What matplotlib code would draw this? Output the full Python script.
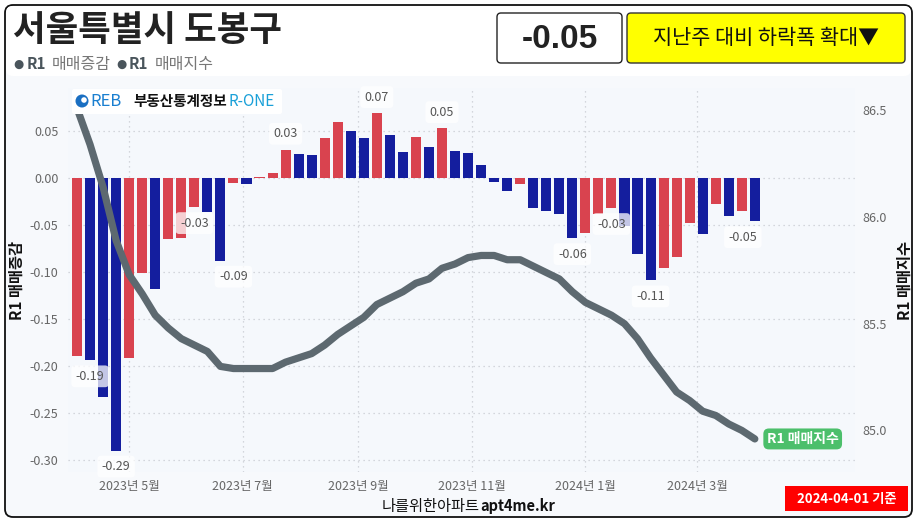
import numpy as np
import pandas as pd
import matplotlib
matplotlib.use('Agg')
import matplotlib.pyplot as plt
import matplotlib.dates as mdates
from matplotlib.patches import FancyBboxPatch, Circle
from matplotlib.ticker import FuncFormatter, FixedLocator
from matplotlib.transforms import IdentityTransform

plt.rcParams['font.family'] = ['Noto Sans CJK KR', 'DejaVu Sans']

# weekly data, 2023-04-03 .. 2024-04-01
weeks = pd.date_range('2023-04-03', '2024-04-01', freq='7D')

# R1 매매증감 (weekly change, %)
change = [-0.189, -0.194, -0.233, -0.290, -0.191, -0.101, -0.118, -0.065, -0.064, -0.031,
          -0.036, -0.088, -0.005, -0.006, 0.001, 0.005, 0.030, 0.026, 0.024, 0.042,
          0.059, 0.050, 0.042, 0.069, 0.046, 0.028, 0.044, 0.033, 0.053, 0.029,
          0.027, 0.014, -0.004, -0.014, -0.006, -0.032, -0.035, -0.038, -0.064, -0.059,
          -0.038, -0.032, -0.051, -0.081, -0.109, -0.096, -0.084, -0.048, -0.060, -0.028,
          -0.040, -0.035, -0.046]

# R1 매매지수 (index)
index_val = [86.51, 86.34, 86.14, 85.89, 85.73, 85.64, 85.54, 85.48, 85.43, 85.40,
             85.37, 85.30, 85.29, 85.29, 85.29, 85.29, 85.32, 85.34, 85.36, 85.40,
             85.45, 85.49, 85.53, 85.59, 85.62, 85.65, 85.69, 85.71, 85.76, 85.78,
             85.81, 85.82, 85.82, 85.80, 85.80, 85.77, 85.74, 85.71, 85.65, 85.60,
             85.57, 85.54, 85.50, 85.43, 85.34, 85.26, 85.18, 85.14, 85.09, 85.07,
             85.03, 85.00, 84.96]

# bars that carry a value label
label_idx = [1, 3, 9, 11, 16, 23, 28, 38, 41, 44, 52]
label_dx = [0, 0, 0, 13, 0, 0, 0, 0, 0, 0, -12]   # px

month_ticks = pd.to_datetime(['2023-05-01', '2023-07-01', '2023-09-01',
                              '2023-11-01', '2024-01-01', '2024-03-01'])
left_ticks = [-0.30, -0.25, -0.20, -0.15, -0.10, -0.05, 0.00, 0.05]
right_ticks = [85.0, 85.5, 86.0, 86.5]

RED = '#d9434f'
BLUE = '#141e9e'
LINE = '#5d6970'
W, H = 920, 524

fig = plt.figure(figsize=(W / 100, H / 100), dpi=100)
fig.patch.set_facecolor('white')


def fx(x):
    return x / W


def fy(y):
    return 1 - y / H


# card
card = FancyBboxPatch((5, 7), 907, 512, boxstyle='round,pad=0,rounding_size=8',
                      transform=IdentityTransform(), facecolor='#f7f9fc',
                      edgecolor='#111111', linewidth=1.3, zorder=-2)
fig.patches.append(card)
top = FancyBboxPatch((6, 448), 905, 70, boxstyle='round,pad=0,rounding_size=7',
                     transform=IdentityTransform(), facecolor='white',
                     edgecolor='none', zorder=-1)
fig.patches.append(top)

ax = fig.add_axes([fx(68), fy(472), (855 - 68) / W, (472 - 88) / H])
ax.set_facecolor('#f5f8fc')
ax2 = ax.twinx()

colors = [RED] + [RED if change[i] > change[i - 1] else BLUE for i in range(1, len(change))]
ax.bar(weeks, change, width=5.4, color=colors, zorder=2)

ax.set_ylim(-0.3128, 0.0957)
ax.yaxis.set_major_locator(FixedLocator(left_ticks))
ax.yaxis.set_major_formatter(FuncFormatter(lambda v, p: f'{v:.2f}'))
ax.grid(axis='y', color='#c8ccd2', linestyle=(0, (1, 3)), linewidth=0.9, zorder=1)
ax.grid(axis='x', color='#c8ccd2', linestyle=(0, (1, 3)), linewidth=0.9, zorder=1)

ax.set_xlim(weeks[0] - pd.Timedelta(days=4.85), weeks[-1] + pd.Timedelta(days=53.8))
ax.set_xticks(month_ticks)
ax.set_xticklabels([f'{d.year}년 {d.month}월' for d in month_ticks])

for a in (ax, ax2):
    for s in a.spines.values():
        s.set_visible(False)
    a.tick_params(length=0, labelsize=9, labelcolor='#666666')
ax.tick_params(axis='y', pad=7)
ax.tick_params(axis='x', pad=6)
ax2.tick_params(axis='y', pad=5)

ax.set_ylabel('R1 매매증감', fontsize=11, fontweight='bold', color='#111111')
ax.yaxis.set_label_coords(-0.055, 0.5)

for i, dx in zip(label_idx, label_dx):
    v = change[i]
    dy = 16 if v > 0 else -16
    ax.annotate(f'{v:.2f}', (weeks[i], v), xytext=(dx * 0.72, dy * 0.72),
                textcoords='offset points', ha='center', va='center',
                fontsize=9, color='#555555', zorder=5,
                bbox=dict(boxstyle='round,pad=0.35,rounding_size=0.3',
                          facecolor='white', edgecolor='none', alpha=0.75))

ax2.plot(weeks, index_val, color=LINE, linewidth=5.2, solid_capstyle='round',
         solid_joinstyle='round', zorder=3)
ax2.set_ylim(84.805, 86.605)
ax2.yaxis.set_major_locator(FixedLocator(right_ticks))
ax2.yaxis.set_major_formatter(FuncFormatter(lambda v, p: f'{v:.1f}'))
ax2.set_ylabel('R1 매매지수', fontsize=11, fontweight='bold', color='#111111',
               rotation=90)
ax2.yaxis.set_label_coords(1.053, 0.5)

ax2.annotate('R1 매매지수', (weeks[-1], index_val[-1]), xytext=(12 * 0.72, 0),
             textcoords='offset points', ha='left', va='center',
             fontsize=10, fontweight='bold', color='white',
             bbox=dict(boxstyle='round,pad=0.25,rounding_size=0.4',
                       facecolor='#4cbf6b', edgecolor='none'))

# title and legend
fig.text(fx(13), fy(30), '서울특별시 도봉구', fontsize=25.5, fontweight='bold',
         color='#222222', va='center', ha='left')
for x, s, c, wgt, fs in [(13, '●', '#4a555c', 'normal', 8.5), (27, 'R1', '#4a555c', 'bold', 11),
                         (52, '매매증감', '#777777', 'normal', 11.5),
                         (116, '●', '#4a555c', 'normal', 8.5), (129, 'R1', '#4a555c', 'bold', 11),
                         (155, '매매지수', '#777777', 'normal', 11.5)]:
    fig.text(fx(x), fy(64), s, fontsize=fs, fontweight=wgt, color=c,
             va='center', ha='left', family=['DejaVu Sans'] if s == '●' else None)

# top-right boxes
box1 = FancyBboxPatch((497, 461), 125, 50, boxstyle='round,pad=0,rounding_size=4',
                      transform=IdentityTransform(), facecolor='white',
                      edgecolor='#222222', linewidth=1.0, zorder=2)
box2 = FancyBboxPatch((627, 461), 278, 50, boxstyle='round,pad=0,rounding_size=4',
                      transform=IdentityTransform(), facecolor='#ffff00',
                      edgecolor='#333333', linewidth=1.0, zorder=2)
fig.patches.extend([box1, box2])
fig.text(fx(559.5), fy(39), '-0.05', fontsize=24, fontweight='bold',
         family=['Liberation Sans', 'DejaVu Sans'], color='#222222',
         ha='center', va='center')
fig.text(fx(766), fy(38), '지난주 대비 하락폭 확대▼', fontsize=15,
         color='#111111', ha='center', va='center')

# logo
logo = FancyBboxPatch((72, 410), 210, 25, boxstyle='round,pad=0,rounding_size=2',
                      transform=IdentityTransform(), facecolor='white',
                      edgecolor='none', zorder=2)
fig.patches.append(logo)
fig.patches.append(Circle((82, 423), 6.5, transform=IdentityTransform(),
                          facecolor='#1a6fc2', edgecolor='none', zorder=3))
fig.patches.append(Circle((84, 424), 2.8, transform=IdentityTransform(),
                          facecolor='white', edgecolor='none', zorder=3))
fig.text(fx(90), fy(101), 'REB', fontsize=12, color='#1a7fd0', va='center', ha='left')
fig.text(fx(133), fy(101), '부동산통계정보', fontsize=10.5, fontweight='bold',
         color='#111111', va='center', ha='left')
fig.text(fx(229), fy(101), 'R-ONE', fontsize=11, color='#1aa0d8', va='center', ha='left')

# footer
fig.text(fx(480), fy(506), '나를위한아파트', fontsize=11, color='#111111',
         ha='right', va='center')
fig.text(fx(480), fy(506), 'apt4me.kr', fontsize=10.5, fontweight='bold',
         color='#111111', ha='left', va='center')
date_box = FancyBboxPatch((785, 13), 123, 25, boxstyle='square,pad=0',
                          transform=IdentityTransform(), facecolor='#ff0000',
                          edgecolor='none', zorder=2)
fig.patches.append(date_box)
fig.text(fx(846.5), fy(498.5), '2024-04-01 기준', fontsize=9.5, fontweight='bold',
         color='white', ha='center', va='center')

fig.savefig('out.png', dpi=100)
